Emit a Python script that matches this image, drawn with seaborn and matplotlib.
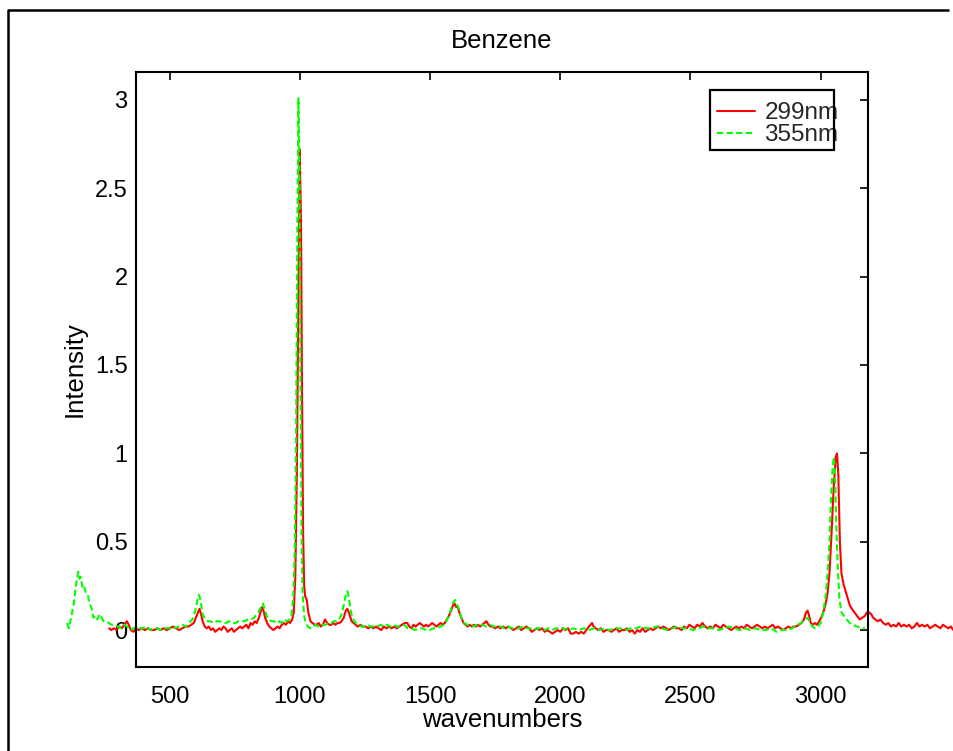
import matplotlib
matplotlib.use("Agg")
import matplotlib.pyplot as plt
import seaborn as sns
import pandas as pd
from matplotlib.patches import Rectangle
from matplotlib.lines import Line2D

# Raman spectra of benzene at two excitation wavelengths
wn_299 = [267, 275, 285, 295, 305, 315, 325, 335, 342, 350, 360, 370, 380, 392, 404, 416, 428, 440, 452, 464,
          476, 488, 500, 512, 524, 536, 548, 560, 572, 582, 592, 600, 608, 614, 620, 626, 634, 642, 650, 658,
          666, 674, 682, 690, 698, 706, 714, 722, 730, 738, 746, 754, 762, 770, 778, 786, 794, 802, 810, 818,
          826, 834, 842, 848, 854, 860, 866, 874, 882, 890, 898, 906, 914, 922, 930, 938, 946, 954, 962, 970,
          976, 982, 988, 994, 999, 1004, 1008, 1012, 1016, 1020, 1026, 1032, 1040, 1048, 1056, 1064, 1072, 1080, 1088, 1096,
          1104, 1112, 1120, 1128, 1136, 1144, 1152, 1160, 1168, 1176, 1182, 1190, 1198, 1206, 1214, 1222, 1232, 1242, 1252, 1262,
          1272, 1282, 1292, 1302, 1312, 1322, 1332, 1342, 1352, 1362, 1372, 1382, 1392, 1402, 1412, 1420, 1428, 1436, 1444, 1452,
          1460, 1468, 1476, 1484, 1492, 1500, 1508, 1516, 1524, 1532, 1540, 1548, 1556, 1564, 1572, 1580, 1588, 1594, 1600, 1606,
          1612, 1620, 1628, 1636, 1644, 1652, 1660, 1668, 1676, 1684, 1692, 1700, 1708, 1716, 1724, 1732, 1740, 1750, 1760, 1770,
          1780, 1790, 1800, 1810, 1820, 1830, 1840, 1850, 1860, 1870, 1880, 1890, 1900, 1910, 1920, 1930, 1940, 1950, 1960, 1970,
          1980, 1990, 2000, 2010, 2020, 2030, 2040, 2050, 2060, 2070, 2080, 2090, 2100, 2110, 2116, 2122, 2128, 2136, 2146, 2156,
          2166, 2176, 2186, 2196, 2206, 2216, 2226, 2236, 2246, 2256, 2266, 2276, 2286, 2296, 2306, 2316, 2326, 2336, 2346, 2356,
          2366, 2376, 2386, 2396, 2406, 2416, 2426, 2436, 2446, 2456, 2466, 2476, 2486, 2496, 2506, 2516, 2526, 2536, 2546, 2556,
          2566, 2576, 2586, 2596, 2606, 2616, 2626, 2636, 2646, 2656, 2666, 2676, 2686, 2696, 2706, 2716, 2726, 2736, 2746, 2756,
          2766, 2776, 2786, 2796, 2806, 2816, 2826, 2836, 2846, 2856, 2866, 2876, 2886, 2896, 2906, 2916, 2926, 2936, 2944, 2950,
          2956, 2962, 2970, 2978, 2986, 2994, 3002, 3010, 3018, 3026, 3034, 3042, 3050, 3058, 3063, 3068, 3074, 3080, 3088, 3096,
          3104, 3112, 3120, 3130, 3140, 3150, 3160, 3170, 3178, 3186, 3194, 3202, 3210, 3220, 3230, 3240, 3250, 3260, 3270, 3280,
          3290, 3300, 3310, 3320, 3330, 3340, 3350, 3360, 3370, 3380, 3390, 3400, 3410, 3420, 3430, 3440, 3450, 3460, 3470, 3480,
          3490, 3500, 3510]
int_299 = [0.01, 0.00, 0.01, 0.00, 0.02, 0.01, 0.03, 0.05, 0.03, 0.00, -0.01, 0.01, 0.00, 0.01, 0.00, 0.01, 0.00, 0.00, 0.01, 0.00,
           0.01, 0.00, 0.01, 0.02, 0.01, 0.00, 0.01, 0.02, 0.02, 0.03, 0.04, 0.07, 0.10, 0.12, 0.09, 0.05, 0.02, 0.01, 0.02, 0.00,
           0.01, -0.01, 0.00, 0.01, 0.00, 0.02, 0.01, -0.01, 0.00, 0.01, -0.01, 0.00, 0.01, 0.02, 0.01, 0.02, 0.03, 0.01, 0.04, 0.03,
           0.05, 0.04, 0.07, 0.10, 0.13, 0.11, 0.07, 0.04, 0.02, 0.01, 0.00, 0.01, 0.02, 0.01, 0.03, 0.04, 0.03, 0.05, 0.04, 0.06,
           0.10, 0.30, 0.90, 1.90, 2.72, 2.30, 1.30, 0.55, 0.25, 0.19, 0.17, 0.10, 0.05, 0.04, 0.03, 0.03, 0.04, 0.02, 0.03, 0.06,
           0.04, 0.03, 0.03, 0.04, 0.03, 0.04, 0.04, 0.05, 0.07, 0.11, 0.12, 0.09, 0.05, 0.04, 0.03, 0.02, 0.03, 0.02, 0.02, 0.01,
           0.02, 0.01, 0.02, 0.01, 0.00, 0.02, 0.01, 0.02, 0.01, 0.02, 0.01, 0.02, 0.03, 0.04, 0.04, 0.02, 0.01, 0.03, 0.02, 0.03,
           0.04, 0.03, 0.02, 0.03, 0.02, 0.03, 0.04, 0.03, 0.02, 0.03, 0.04, 0.03, 0.04, 0.06, 0.08, 0.11, 0.14, 0.15, 0.13, 0.13,
           0.10, 0.07, 0.04, 0.03, 0.02, 0.03, 0.02, 0.03, 0.02, 0.03, 0.02, 0.03, 0.04, 0.05, 0.03, 0.02, 0.02, 0.01, 0.02, 0.01,
           0.02, 0.01, 0.02, 0.01, 0.00, 0.01, 0.02, 0.00, 0.01, 0.02, 0.01, -0.01, 0.00, 0.01, 0.00, 0.01, -0.01, 0.00, -0.01, -0.02,
           -0.01, 0.00, -0.01, 0.01, 0.00, 0.01, -0.02, -0.02, -0.01, -0.02, -0.01, -0.02, 0.00, 0.02, 0.03, 0.04, 0.02, 0.01, 0.00, 0.01,
           -0.01, 0.00, 0.00, -0.01, 0.00, 0.01, -0.01, 0.00, 0.00, 0.01, -0.01, 0.00, -0.02, 0.00, -0.01, 0.01, -0.01, 0.00, 0.01, 0.00,
           0.01, 0.02, 0.01, 0.02, 0.01, 0.00, 0.01, 0.02, 0.01, 0.01, 0.00, 0.02, 0.01, 0.03, 0.02, 0.01, 0.03, 0.02, 0.04, 0.02,
           0.01, 0.02, 0.01, 0.03, 0.02, 0.01, 0.03, 0.02, 0.01, 0.00, 0.01, 0.02, 0.01, 0.02, 0.01, 0.03, 0.02, 0.01, 0.02, 0.03,
           0.02, 0.01, 0.02, 0.01, 0.02, 0.03, 0.01, 0.02, 0.01, 0.00, 0.01, 0.02, 0.01, 0.02, 0.02, 0.03, 0.04, 0.06, 0.10, 0.11,
           0.08, 0.04, 0.03, 0.04, 0.03, 0.05, 0.07, 0.10, 0.14, 0.20, 0.32, 0.55, 0.80, 0.98, 1.00, 0.88, 0.50, 0.32, 0.26, 0.22,
           0.18, 0.14, 0.12, 0.10, 0.08, 0.06, 0.07, 0.08, 0.10, 0.10, 0.09, 0.07, 0.06, 0.05, 0.06, 0.04, 0.03, 0.04, 0.02, 0.03,
           0.02, 0.04, 0.02, 0.03, 0.02, 0.03, 0.01, 0.02, 0.04, 0.02, 0.03, 0.02, 0.03, 0.01, 0.02, 0.03, 0.02, 0.01, 0.03, 0.02,
           0.01, 0.02, 0.00]

wn_355 = [105, 112, 122, 132, 140, 148, 153, 158, 164, 170, 178, 185, 192, 200, 206, 214, 222, 230, 238, 246,
          256, 266, 276, 288, 300, 312, 324, 336, 348, 360, 372, 384, 396, 410, 424, 438, 452, 466, 480, 494,
          508, 520, 534, 548, 562, 574, 586, 598, 606, 612, 618, 626, 636, 646, 656, 668, 680, 692, 704, 716,
          728, 740, 752, 764, 776, 788, 800, 812, 824, 834, 844, 852, 858, 864, 872, 880, 890, 900, 910, 920,
          930, 940, 950, 960, 968, 974, 980, 985, 990, 994, 998, 1002, 1006, 1010, 1016, 1022, 1030, 1040, 1050, 1060,
          1070, 1080, 1090, 1100, 1110, 1120, 1130, 1140, 1150, 1160, 1168, 1176, 1182, 1188, 1196, 1204, 1214, 1224, 1236, 1248,
          1260, 1272, 1284, 1296, 1310, 1322, 1334, 1348, 1360, 1372, 1386, 1400, 1414, 1428, 1442, 1456, 1470, 1484, 1498, 1512,
          1526, 1540, 1552, 1562, 1572, 1582, 1590, 1596, 1602, 1610, 1620, 1630, 1642, 1654, 1666, 1678, 1690, 1702, 1716, 1730,
          1744, 1758, 1772, 1786, 1800, 1814, 1828, 1842, 1856, 1870, 1884, 1898, 1912, 1926, 1940, 1954, 1968, 1982, 1996, 2010,
          2030, 2050, 2070, 2090, 2110, 2130, 2150, 2170, 2190, 2210, 2230, 2250, 2270, 2290, 2310, 2330, 2350, 2370, 2390, 2410,
          2430, 2450, 2470, 2490, 2510, 2530, 2550, 2570, 2590, 2610, 2630, 2650, 2670, 2690, 2710, 2730, 2750, 2770, 2790, 2810,
          2830, 2850, 2870, 2890, 2910, 2925, 2938, 2948, 2958, 2968, 2978, 2990, 3000, 3010, 3020, 3028, 3034, 3040, 3046, 3051,
          3056, 3060, 3066, 3072, 3080, 3090, 3100, 3112, 3125, 3140, 3155, 3170]
int_355 = [0.04, 0.01, 0.08, 0.16, 0.26, 0.33, 0.29, 0.30, 0.24, 0.25, 0.21, 0.20, 0.15, 0.12, 0.07, 0.08, 0.06, 0.09, 0.07, 0.05,
           0.05, 0.04, 0.03, 0.03, 0.02, 0.01, 0.03, 0.02, 0.00, 0.01, 0.02, 0.01, 0.01, 0.02, 0.00, 0.01, 0.01, 0.00, 0.01, 0.01,
           0.02, 0.01, 0.02, 0.03, 0.02, 0.04, 0.06, 0.11, 0.17, 0.20, 0.17, 0.09, 0.06, 0.05, 0.05, 0.04, 0.05, 0.05, 0.04, 0.04,
           0.05, 0.04, 0.04, 0.05, 0.05, 0.05, 0.06, 0.06, 0.07, 0.09, 0.11, 0.14, 0.15, 0.12, 0.08, 0.06, 0.05, 0.05, 0.04, 0.05,
           0.04, 0.06, 0.05, 0.06, 0.09, 0.18, 0.45, 1.10, 2.30, 3.01, 2.60, 1.40, 0.55, 0.20, 0.08, 0.04, 0.02, 0.01, 0.02, 0.03,
           0.02, 0.03, 0.03, 0.03, 0.04, 0.04, 0.05, 0.05, 0.06, 0.09, 0.14, 0.20, 0.22, 0.18, 0.10, 0.06, 0.04, 0.03, 0.02, 0.02,
           0.03, 0.02, 0.02, 0.02, 0.03, 0.02, 0.03, 0.02, 0.03, 0.02, 0.02, 0.03, 0.01, 0.01, 0.00, 0.01, 0.01, 0.00, 0.00, 0.01,
           0.01, 0.02, 0.03, 0.05, 0.08, 0.13, 0.16, 0.17, 0.15, 0.12, 0.07, 0.04, 0.03, 0.03, 0.02, 0.03, 0.03, 0.03, 0.02, 0.03,
           0.02, 0.02, 0.02, 0.01, 0.02, 0.01, 0.01, 0.01, 0.02, 0.01, 0.01, 0.00, 0.01, 0.01, 0.00, 0.01, 0.00, 0.01, 0.01, 0.01,
           0.00, 0.01, 0.00, 0.01, 0.00, 0.01, 0.00, 0.01, 0.00, 0.01, 0.01, 0.00, 0.01, 0.01, 0.02, 0.01, 0.01, 0.02, 0.01, 0.00,
           0.01, 0.02, 0.01, 0.01, 0.00, 0.01, 0.02, 0.01, 0.01, 0.00, 0.01, 0.02, 0.01, 0.00, 0.01, 0.00, 0.01, 0.00, 0.00, 0.01,
           -0.01, 0.00, 0.00, 0.01, 0.03, 0.04, 0.06, 0.07, 0.05, 0.02, 0.01, 0.02, 0.04, 0.10, 0.20, 0.35, 0.50, 0.75, 0.92, 0.98,
           0.85, 0.60, 0.35, 0.18, 0.10, 0.08, 0.06, 0.04, 0.03, 0.02, 0.01, 0.01]

x_ticks = [500, 1000, 1500, 2000, 2500, 3000]
y_ticks = [0, 0.5, 1, 1.5, 2, 2.5, 3]
y_tick_labels = ["0", "0.5", "1", "1.5", "2", "2.5", "3"]

sns.set_theme(style="white")
plt.rcParams["font.family"] = ["Liberation Sans", "DejaVu Sans"]

TICK_FS = 17
LABEL_FS = 18.5

fig = plt.figure(figsize=(9.54, 7.51), dpi=100)
ax = fig.add_axes([136 / 954, 1 - 667 / 751, 732 / 954, 595 / 751])

df_299 = pd.DataFrame({"wavenumbers": wn_299, "Intensity": int_299})
df_355 = pd.DataFrame({"wavenumbers": wn_355, "Intensity": int_355})

sns.lineplot(data=df_299, x="wavenumbers", y="Intensity", ax=ax, color="#ff0000",
             linewidth=1.5, sort=False, estimator=None, clip_on=False, label="299nm")
sns.lineplot(data=df_355, x="wavenumbers", y="Intensity", ax=ax, color="#00ff00",
             linewidth=1.5, linestyle=(0, (3, 1.6)), sort=False, estimator=None,
             clip_on=False, label="355nm")

ax.set_xlim(370, 3182)
ax.set_ylim(-0.209, 3.158)
ax.set_xticks(x_ticks)
ax.set_xticklabels([str(t) for t in x_ticks])
ax.set_yticks(y_ticks)
ax.set_yticklabels(y_tick_labels)

for s in ax.spines.values():
    s.set_color("black")
    s.set_linewidth(1.5)
ax.tick_params(axis="both", which="major", direction="in", length=6, width=1.2,
               top=True, right=True, labelsize=TICK_FS, colors="black")
ax.tick_params(axis="x", pad=14)
ax.tick_params(axis="y", pad=6)

ax.set_title("Benzene", fontsize=LABEL_FS, pad=17, color="black")
ax.set_xlabel("wavenumbers", fontsize=LABEL_FS, labelpad=0, color="black")
ax.set_ylabel("Intensity", fontsize=LABEL_FS, labelpad=6, color="black")

leg = ax.legend(loc="upper left", bbox_to_anchor=(717 / 954, 1 - 102 / 751),
                bbox_transform=fig.transFigure, frameon=False, fontsize=17.5,
                handlelength=1.55, handletextpad=0.4, labelspacing=0.0,
                borderpad=0, borderaxespad=0)
for line in leg.get_lines():
    line.set_linewidth(1.5)

# legend frame
fig.patches.append(Rectangle((710 / 954, 1 - 150 / 751), 124 / 954, 60 / 751,
                             transform=fig.transFigure, fill=False,
                             edgecolor="black", linewidth=1.6, zorder=5))
# figure border: top and left edges
top_y = 1 - 9.5 / 751
left_x = 8 / 954
fig.add_artist(Line2D([left_x, 949 / 954], [top_y, top_y], transform=fig.transFigure,
                      color="black", linewidth=1.8, solid_capstyle="butt"))
fig.add_artist(Line2D([left_x, left_x], [top_y, 0.0], transform=fig.transFigure,
                      color="black", linewidth=1.8))

fig.savefig("out.png", dpi=100, facecolor="white")
